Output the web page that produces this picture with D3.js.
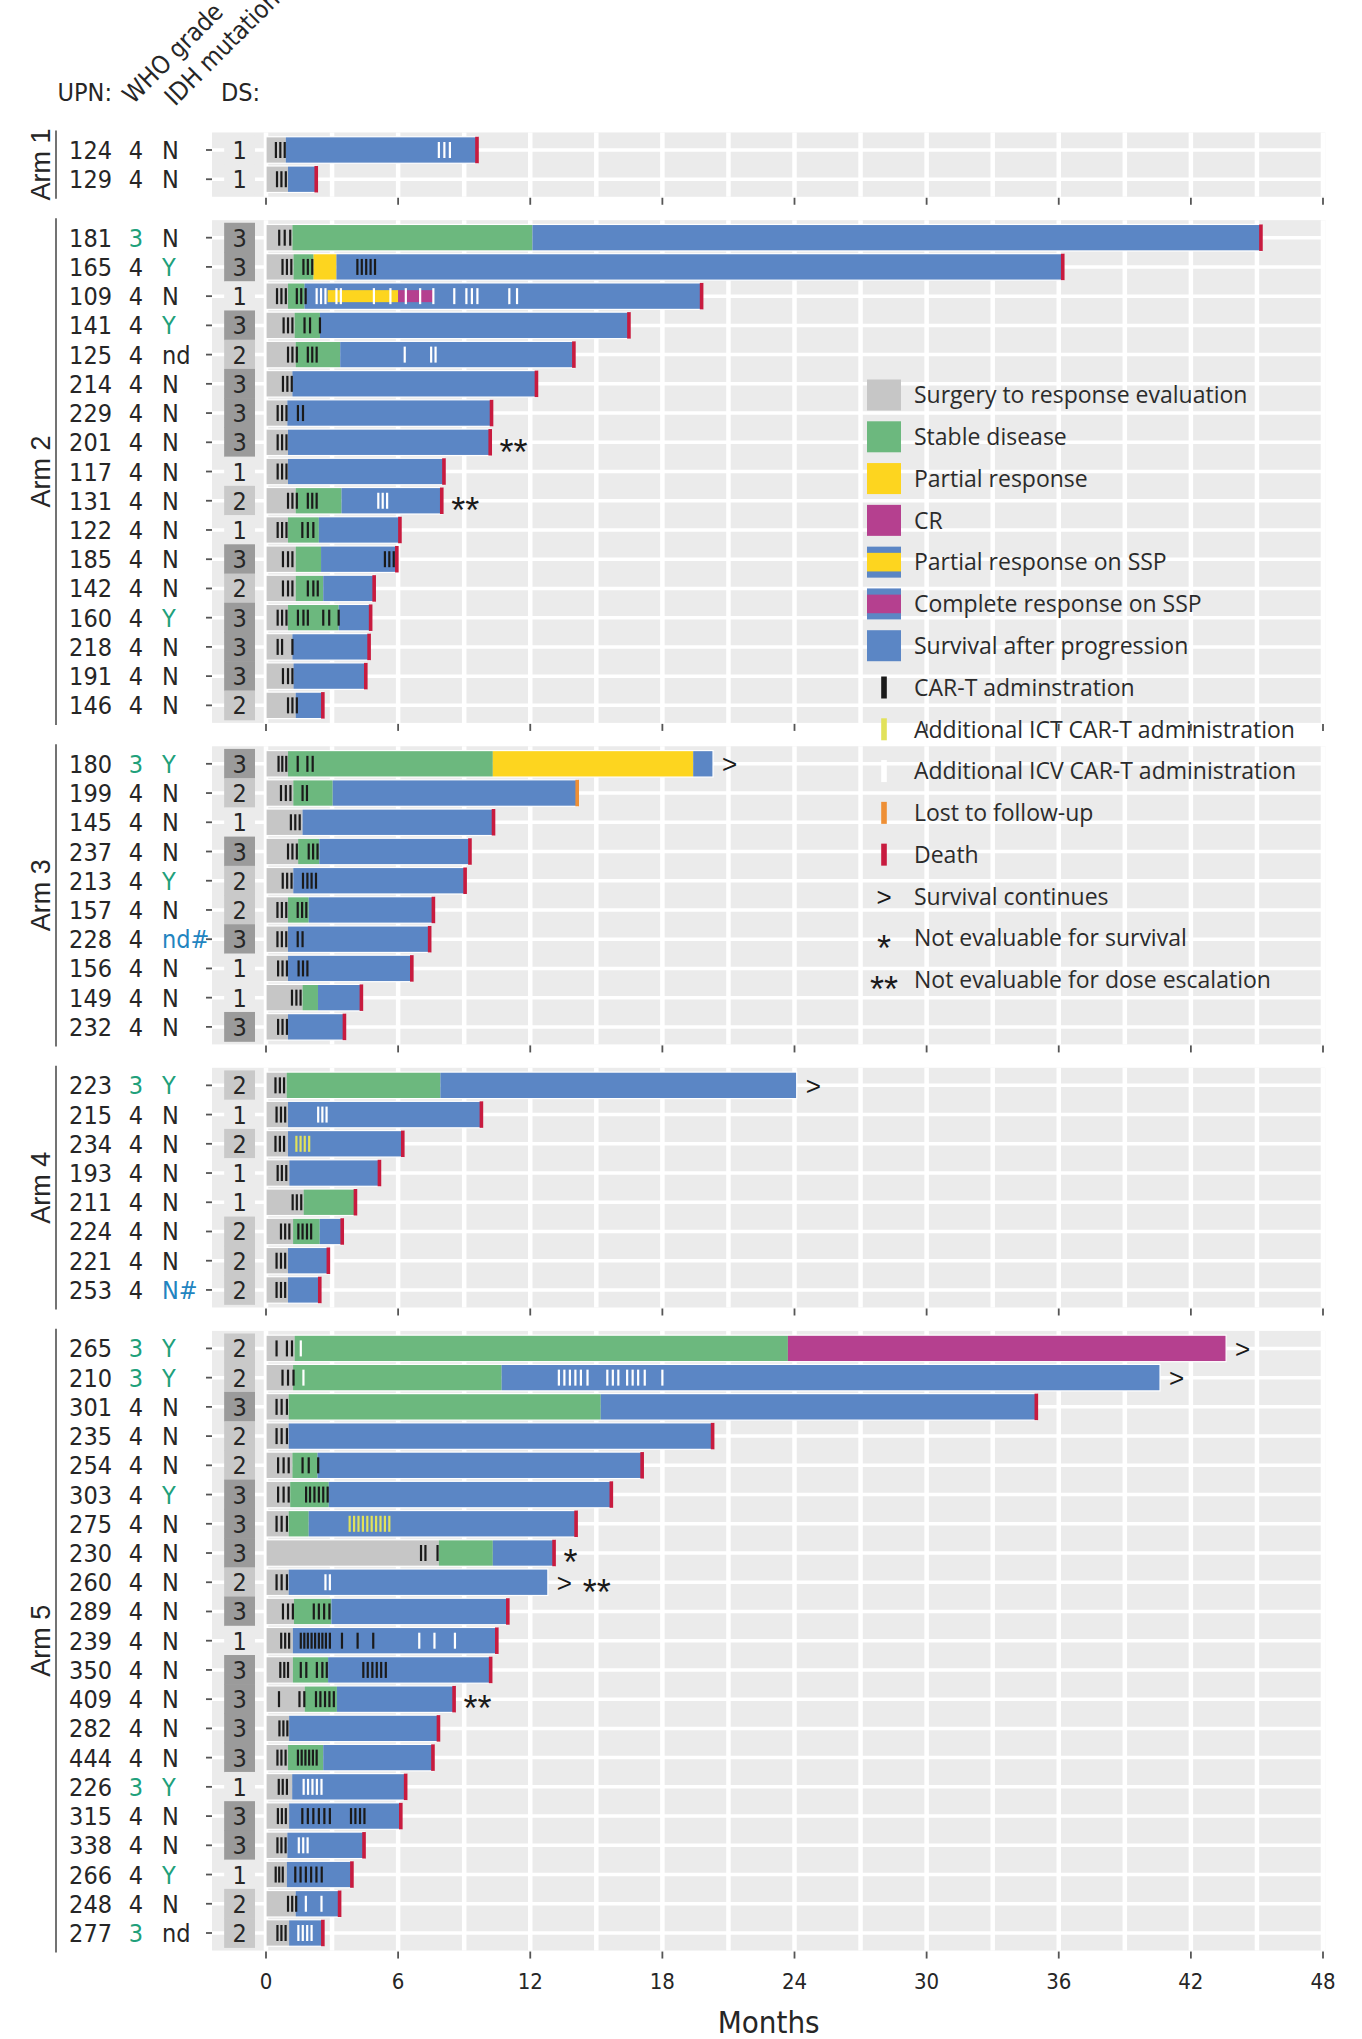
<!DOCTYPE html>
<html>
<head>
<meta charset="utf-8">
<script src="https://d3js.org/d3.v7.min.js"></script>
<style>
  html, body { margin: 0; padding: 0; background: #fff; }
  svg { display: block; }
  .narrow { font-family: "Liberation Sans Narrow", "DejaVu Sans Condensed", sans-serif; }
  .reg { font-family: "Liberation Sans", Arial, sans-serif; }
  .leg { font-family: "Open Sans", "DejaVu Sans", sans-serif; }
</style>
</head>
<body>
<svg id="chart" width="1362" height="2039"></svg>
<script>
'use strict';

// ---- data (months) ----
var arms = ['Arm 1', 'Arm 2', 'Arm 3', 'Arm 4', 'Arm 5'];
var armSize = [2, 17, 10, 8, 21];

var upn = ['124', '129',
  '181', '165', '109', '141', '125', '214', '229', '201', '117', '131', '122', '185', '142', '160', '218', '191', '146',
  '180', '199', '145', '237', '213', '157', '228', '156', '149', '232',
  '223', '215', '234', '193', '211', '224', '221', '253',
  '265', '210', '301', '235', '254', '303', '275', '230', '260', '289', '239', '350', '409', '282', '444', '226', '315', '338', '266', '248', '277'];

var whoGrade = ['4', '4',
  '3', '4', '4', '4', '4', '4', '4', '4', '4', '4', '4', '4', '4', '4', '4', '4', '4',
  '3', '4', '4', '4', '4', '4', '4', '4', '4', '4',
  '3', '4', '4', '4', '4', '4', '4', '4',
  '3', '3', '4', '4', '4', '4', '4', '4', '4', '4', '4', '4', '4', '4', '4', '3', '4', '4', '4', '4', '3'];

var idhMutation = ['N', 'N',
  'N', 'Y', 'N', 'Y', 'nd', 'N', 'N', 'N', 'N', 'N', 'N', 'N', 'N', 'Y', 'N', 'N', 'N',
  'Y', 'N', 'N', 'N', 'Y', 'N', 'nd#', 'N', 'N', 'N',
  'Y', 'N', 'N', 'N', 'N', 'N', 'N', 'N#',
  'Y', 'Y', 'N', 'N', 'N', 'Y', 'N', 'N', 'N', 'N', 'N', 'N', 'N', 'N', 'N', 'Y', 'N', 'N', 'Y', 'N', 'nd'];

var doseSchedule = [1, 1,
  3, 3, 1, 3, 2, 3, 3, 3, 1, 2, 1, 3, 2, 3, 3, 3, 2,
  3, 2, 1, 3, 2, 2, 3, 1, 1, 3,
  2, 1, 2, 1, 1, 2, 2, 2,
  2, 2, 3, 2, 2, 3, 3, 3, 2, 3, 1, 3, 3, 3, 3, 1, 3, 3, 1, 2, 2];

// end of surgery-to-response-evaluation phase
var sreEnd = [0.9, 1.0,
  1.2, 1.25, 1.0, 1.3, 1.35, 1.2, 0.97, 1.0, 1.0, 1.35, 1.0, 1.35, 1.35, 1.0, 1.2, 1.25, 1.35,
  1.0, 1.24, 1.66, 1.46, 1.24, 1.0, 1.0, 1.0, 1.66, 1.0,
  0.94, 1.0, 1.0, 1.06, 1.71, 1.23, 1.0, 1.0,
  1.3, 1.23, 1.03, 1.03, 1.2, 1.1, 1.03, 7.85, 1.03, 1.27, 1.22, 1.22, 1.76, 1.05, 1.0, 1.19, 1.05, 0.97, 0.95, 1.35, 1.05];

// end of stable disease phase (null = none)
var sdEnd = [null, null,
  12.1, 2.16, 1.75, 2.45, 3.37, null, null, null, null, 3.43, 2.4, 2.5, 2.6, 3.3, null, null, null,
  10.3, 3.03, null, 2.42, null, 1.94, null, null, 2.36, null,
  7.92, null, null, null, 4.08, 2.44, null, null,
  23.7, 10.7, 15.2, null, 2.34, 2.85, 1.94, 10.3, null, 2.97, null, 2.82, 3.22, null, 2.6, null, null, null, null, null, null];

// end of partial response / complete response phases
var prEnd = [null, null,
  null, 3.2, null, null, null, null, null, null, null, null, null, null, null, null, null, null, null,
  19.4, null, null, null, null, null, null, null, null, null,
  null, null, null, null, null, null, null, null,
  null, null, null, null, null, null, null, null, null, null, null, null, null, null, null, null, null, null, null, null, null];

var crEnd = [null, null,
  null, null, null, null, null, null, null, null, null, null, null, null, null, null, null, null, null,
  null, null, null, null, null, null, null, null, null, null,
  null, null, null, null, null, null, null, null,
  43.6, null, null, null, null, null, null, null, null, null, null, null, null, null, null, null, null, null, null, null, null];

// overall follow-up
var osEnd = [9.6, 2.3,
  45.2, 36.2, 19.8, 16.5, 14.0, 12.3, 10.26, 10.2, 8.1, 8.0, 6.1, 5.96, 4.93, 4.77, 4.7, 4.55, 2.6,
  20.3, 14.15, 10.35, 9.28, 9.06, 7.62, 7.45, 6.64, 4.35, 3.58,
  24.1, 9.8, 6.23, 5.17, 4.08, 3.48, 2.85, 2.46,
  43.6, 40.6, 35.0, 20.3, 17.1, 15.7, 14.1, 13.1, 12.8, 11.0, 10.5, 10.22, 8.56, 7.85, 7.6, 6.36, 6.14, 4.47, 3.92, 3.36, 2.6];

var aliveUpn = ['180', '223', '265', '210', '260'];
var lostUpn = ['199'];
var noteUpn = ['201', '131', '230', '260', '409'];
var noteText = ['**', '**', '*', '**', '**'];

// partial / complete response on SSP (drawn as band over blue)
var sspUpn = ['109', '109'];
var sspKind = ['pr', 'cr'];
var sspFrom = [2.8, 6.0];
var sspTo = [6.0, 7.6];

// CAR-T administrations per patient
var carT = [
  [0.45, 0.65, 0.85], [0.5, 0.7, 0.9],
  [0.6, 0.85, 1.1],
  [0.75, 0.95, 1.15, 1.7, 1.9, 2.1, 4.15, 4.35, 4.55, 4.75, 4.95],
  [0.5, 0.7, 0.9, 1.4, 1.6, 1.8],
  [0.8, 1.0, 1.2, 1.75, 2.0, 2.45],
  [1.0, 1.2, 1.4, 1.9, 2.1, 2.3],
  [0.77, 0.97, 1.17],
  [0.53, 0.73, 0.93, 1.45, 1.68],
  [0.53, 0.73, 0.93],
  [0.53, 0.73, 0.93],
  [1.0, 1.2, 1.4, 1.9, 2.1, 2.3],
  [0.53, 0.73, 0.93, 1.65, 1.9, 2.15],
  [0.77, 1.0, 1.2, 5.4, 5.6, 5.8],
  [0.77, 1.0, 1.2, 1.9, 2.15, 2.35],
  [0.53, 0.73, 0.93, 1.45, 1.7, 1.9, 2.6, 2.87, 3.3],
  [0.53, 0.73, 1.2],
  [0.77, 1.0, 1.2],
  [1.0, 1.2, 1.4],
  [0.57, 0.74, 0.92, 1.44, 1.88, 2.12],
  [0.68, 0.9, 1.11, 1.66, 1.86],
  [1.13, 1.33, 1.53],
  [1.0, 1.2, 1.4, 1.94, 2.14, 2.34],
  [0.76, 0.96, 1.16, 1.68, 1.88, 2.07, 2.27],
  [0.52, 0.72, 0.92, 1.44, 1.64, 1.83],
  [0.52, 0.72, 0.92, 1.44, 1.66],
  [0.55, 0.75, 0.95, 1.48, 1.68, 1.88],
  [1.18, 1.38, 1.57],
  [0.55, 0.75, 0.95],
  [0.43, 0.63, 0.82],
  [0.48, 0.68, 0.87],
  [0.43, 0.63, 0.82],
  [0.53, 0.72, 0.92],
  [1.21, 1.4, 1.6],
  [0.68, 0.87, 1.06, 1.47, 1.66, 1.86, 2.05],
  [0.48, 0.68, 0.87],
  [0.48, 0.68, 0.87],
  [0.48, 0.95, 1.18],
  [0.75, 1.0, 1.25],
  [0.48, 0.71, 0.95],
  [0.48, 0.71, 0.95],
  [0.55, 0.8, 1.03, 1.66, 1.94, 2.37],
  [0.55, 0.8, 1.03, 1.82, 2.0, 2.2, 2.4, 2.6, 2.8],
  [0.48, 0.71, 0.95],
  [7.04, 7.24, 7.79],
  [0.48, 0.71, 0.95],
  [0.77, 1.0, 1.22, 2.17, 2.4, 2.64, 2.88],
  [0.69, 0.87, 1.05, 1.58, 1.74, 1.9, 2.07, 2.23, 2.4, 2.56, 2.72, 2.9, 3.45, 4.16, 4.87],
  [0.65, 0.83, 1.0, 1.58, 1.83, 2.31, 2.56, 2.76, 4.42, 4.62, 4.83, 5.03, 5.23, 5.44],
  [0.59, 1.52, 1.74, 2.27, 2.47, 2.68, 2.88, 3.08],
  [0.61, 0.79, 0.97],
  [0.52, 0.7, 0.89, 1.45, 1.62, 1.79, 1.96, 2.13, 2.3],
  [0.58, 0.76, 0.95],
  [0.54, 0.72, 0.9, 1.65, 1.9, 2.15, 2.4, 2.65, 2.9, 3.86, 4.06, 4.27, 4.47],
  [0.52, 0.7, 0.89],
  [0.44, 0.6, 0.76, 1.33, 1.57, 1.81, 2.05, 2.29, 2.53],
  [1.0, 1.19, 1.37],
  [0.52, 0.7, 0.89]
];

// additional intracavitary (ICT) and intraventricular (ICV) doses
var ictUpn = ['234', '275'];
var ictTimes = [
  [1.38, 1.57, 1.76, 1.96],
  [3.8, 4.0, 4.2, 4.4, 4.6, 4.8, 5.0, 5.2, 5.4, 5.6]
];
var icvUpn = ['124', '109', '125', '131', '215', '265', '210', '260', '239', '226', '338', '248', '277'];
var icvTimes = [
  [7.85, 8.1, 8.35],
  [2.3, 2.5, 2.7, 3.2, 3.4, 4.9, 5.65, 6.35, 7.0, 7.6, 8.55, 9.1, 9.35, 9.6, 11.05, 11.4],
  [6.3, 7.5, 7.7],
  [5.1, 5.3, 5.5],
  [2.37, 2.56, 2.75],
  [1.58],
  [1.7, 13.3, 13.55, 13.8, 14.05, 14.3, 14.6, 15.5, 15.75, 16.0, 16.4, 16.65, 16.9, 17.2, 18.0],
  [2.7, 2.9],
  [6.96, 7.65, 8.58],
  [1.71, 1.91, 2.11, 2.31, 2.52],
  [1.49, 1.69, 1.89],
  [1.81, 2.52],
  [1.47, 1.67, 1.87, 2.07]
];

var xTicks = [0, 6, 12, 18, 24, 30, 36, 42, 48];

var legendLabels = ['Surgery to response evaluation', 'Stable disease', 'Partial response', 'CR',
  'Partial response on SSP', 'Complete response on SSP', 'Survival after progression',
  'CAR-T adminstration', 'Additional ICT CAR-T administration', 'Additional ICV CAR-T administration',
  'Lost to follow-up', 'Death', 'Survival continues', 'Not evaluable for survival',
  'Not evaluable for dose escalation'];
var legendKeys = ['sre', 'sd', 'pr', 'cr', 'prssp', 'crssp', 'sap', 'cart', 'ict', 'icv',
  'lost', 'death', '>', '*', '**'];

// ---- styles ----
var colors = {
  sre: '#c6c6c6', sd: '#6cb87e', pr: '#fdd51f', cr: '#b5408f', sap: '#5b86c5',
  cart: '#1a1a1a', ict: '#e2e25a', icv: '#ffffff', lost: '#ee8f35', death: '#c81b3f',
  panel: '#ebebeb', text: '#262626', teal: '#21a07a', blue: '#2284c0'
};
var dsFill = { 1: '#ebebeb', 2: '#c9c9c9', 3: '#9b9b9b' };

var svg = d3.select('#chart');

var x = d3.scaleLinear().domain([0, 48]).range([266, 1323]);
var y = d3.scaleLinear().domain([0, 61]).range([150, 1933]);
var ROW = y(1) - y(0);
var BAR = 26.5;

// unit position of every patient; one extra unit between arms
var unit = [], armOf = [];
(function () {
  var u = 0;
  armSize.forEach(function (n, a) {
    for (var k = 0; k < n; k++) {
      unit.push(u);
      armOf.push(a);
      u++;
    }
    u += 1;
  });
})();

var rows = upn.map(function (id, i) {
  return { i: i, upn: id, cy: y(unit[i]) };
});

var panels = arms.map(function (name, a) {
  var idx = d3.range(upn.length).filter(function (i) { return armOf[i] === a; });
  return {
    name: name,
    idx: idx,
    top: y(unit[idx[0]] - 0.6),
    bottom: y(unit[idx[idx.length - 1]] + 0.6)
  };
});

var panelLeft = x(-2.45),
    panelRight = x(48.1);

// ---- panels, gridlines ----
var gPanel = svg.append('g');
panels.forEach(function (p) {
  gPanel.append('rect')
      .attr('x', panelLeft).attr('y', p.top)
      .attr('width', panelRight - panelLeft).attr('height', p.bottom - p.top)
      .attr('fill', colors.panel);

  gPanel.selectAll(null)
      .data(d3.range(0, 49, 3))
      .enter().append('line')
      .attr('x1', function (d) { return x(d); })
      .attr('x2', function (d) { return x(d); })
      .attr('y1', p.top).attr('y2', p.bottom)
      .attr('stroke', '#fff').attr('stroke-width', 4.5);

  gPanel.selectAll(null)
      .data(p.idx)
      .enter().append('line')
      .attr('x1', panelLeft).attr('x2', panelRight)
      .attr('y1', function (i) { return y(unit[i]); })
      .attr('y2', function (i) { return y(unit[i]); })
      .attr('stroke', '#fff').attr('stroke-width', 3.5);

  // bottom axis ticks of each panel
  gPanel.selectAll(null)
      .data(xTicks)
      .enter().append('line')
      .attr('x1', function (d) { return x(d); })
      .attr('x2', function (d) { return x(d); })
      .attr('y1', p.bottom + 1).attr('y2', p.bottom + 8)
      .attr('stroke', '#555').attr('stroke-width', 1.8);

  // arm label and bracket
  var mid = (p.top + p.bottom) / 2;
  gPanel.append('line')
      .attr('x1', 56).attr('x2', 56)
      .attr('y1', p.top - 2).attr('y2', p.bottom + 2)
      .attr('stroke', '#444').attr('stroke-width', 1.5);
  gPanel.append('text')
      .attr('class', 'reg')
      .attr('transform', 'translate(40,' + mid + ') rotate(-90)')
      .attr('text-anchor', 'middle')
      .attr('dy', '0.36em')
      .attr('font-size', 27)
      .attr('fill', colors.text)
      .text(p.name);
});

// ---- DS tiles ----
svg.append('g').selectAll('rect')
    .data(rows)
    .enter().append('rect')
    .attr('x', x(-1.9))
    .attr('width', x(-0.5) - x(-1.9))
    .attr('y', function (d) { return d.cy - ROW / 2 - 0.3; })
    .attr('height', ROW + 0.6)
    .attr('fill', function (d) { return dsFill[doseSchedule[d.i]]; });

svg.append('g').selectAll('text')
    .data(rows)
    .enter().append('text')
    .attr('class', 'narrow')
    .attr('x', (x(-1.9) + x(-0.5)) / 2)
    .attr('y', function (d) { return d.cy; })
    .attr('dy', '0.36em')
    .attr('text-anchor', 'middle')
    .attr('font-size', 25)
    .attr('fill', colors.text)
    .text(function (d) { return doseSchedule[d.i]; });

// ---- bars ----
var segments = [];
rows.forEach(function (r) {
  var i = r.i,
      start = 0,
      ends = [['sre', sreEnd[i]], ['sd', sdEnd[i]], ['pr', prEnd[i]], ['cr', crEnd[i]], ['sap', osEnd[i]]];
  ends.forEach(function (e) {
    if (e[1] !== null && e[1] > start) {
      segments.push({ cy: r.cy, kind: e[0], from: start, to: e[1] });
      start = e[1];
    }
  });
});

var gBars = svg.append('g');
gBars.selectAll('rect.seg')
    .data(segments)
    .enter().append('rect')
    .attr('class', 'seg')
    .attr('x', function (d) { return x(d.from); })
    .attr('width', function (d) { return x(d.to) - x(d.from); })
    .attr('y', function (d) { return d.cy - BAR / 2; })
    .attr('height', BAR)
    .attr('fill', function (d) { return colors[d.kind]; });

var ssp = sspUpn.map(function (id, k) {
  return { cy: rows[upn.indexOf(id)].cy, kind: sspKind[k], from: sspFrom[k], to: sspTo[k] };
});
gBars.selectAll('rect.ssp')
    .data(ssp)
    .enter().append('rect')
    .attr('class', 'ssp')
    .attr('x', function (d) { return x(d.from); })
    .attr('width', function (d) { return x(d.to) - x(d.from); })
    .attr('y', function (d) { return d.cy - 6; })
    .attr('height', 12)
    .attr('fill', function (d) { return colors[d.kind]; });

gBars.selectAll('rect.outline')
    .data(rows)
    .enter().append('rect')
    .attr('class', 'outline')
    .attr('x', x(0))
    .attr('width', function (d) { return x(osEnd[d.i]) - x(0); })
    .attr('y', function (d) { return d.cy - BAR / 2; })
    .attr('height', BAR)
    .attr('fill', 'none')
    .attr('stroke', '#fff')
    .attr('stroke-width', 1.2);

// ---- administrations ----
var doses = [];
rows.forEach(function (r) {
  carT[r.i].forEach(function (t) { doses.push({ cy: r.cy, t: t, kind: 'cart' }); });
});
ictUpn.forEach(function (id, k) {
  var r = rows[upn.indexOf(id)];
  ictTimes[k].forEach(function (t) { doses.push({ cy: r.cy, t: t, kind: 'ict' }); });
});
icvUpn.forEach(function (id, k) {
  var r = rows[upn.indexOf(id)];
  icvTimes[k].forEach(function (t) { doses.push({ cy: r.cy, t: t, kind: 'icv' }); });
});

svg.append('g').selectAll('line')
    .data(doses)
    .enter().append('line')
    .attr('x1', function (d) { return x(d.t); })
    .attr('x2', function (d) { return x(d.t); })
    .attr('y1', function (d) { return d.cy - 8; })
    .attr('y2', function (d) { return d.cy + 8; })
    .attr('stroke', function (d) { return colors[d.kind]; })
    .attr('stroke-width', 2.2);

// ---- end markers and notes ----
var ends = rows.filter(function (r) { return aliveUpn.indexOf(r.upn) < 0; });
svg.append('g').selectAll('rect')
    .data(ends)
    .enter().append('rect')
    .attr('x', function (d) { return x(osEnd[d.i]) - 2.2; })
    .attr('width', 3.6)
    .attr('y', function (d) { return d.cy - BAR / 2; })
    .attr('height', BAR)
    .attr('fill', function (d) { return lostUpn.indexOf(d.upn) >= 0 ? colors.lost : colors.death; });

var notes = [];
rows.forEach(function (r) {
  var px = x(osEnd[r.i]) + 9,
      k = noteUpn.indexOf(r.upn);
  if (aliveUpn.indexOf(r.upn) >= 0) {
    notes.push({ cy: r.cy, px: px, label: '>', size: 26, dy: '0.36em' });
    px += 26;
  }
  if (k >= 0) {
    notes.push({ cy: r.cy, px: px, label: noteText[k], size: 36, dy: '0.62em' });
  }
});
svg.append('g').selectAll('text')
    .data(notes)
    .enter().append('text')
    .attr('class', 'reg')
    .attr('x', function (d) { return d.px; })
    .attr('y', function (d) { return d.cy; })
    .attr('dy', function (d) { return d.dy; })
    .attr('font-size', function (d) { return d.size; })
    .attr('fill', '#1a1a1a')
    .text(function (d) { return d.label; });

// ---- y labels ----
var gY = svg.append('g').attr('class', 'narrow').attr('font-size', 25).attr('fill', colors.text);
gY.selectAll('line')
    .data(rows)
    .enter().append('line')
    .attr('x1', 206).attr('x2', 212)
    .attr('y1', function (d) { return d.cy; })
    .attr('y2', function (d) { return d.cy; })
    .attr('stroke', '#555').attr('stroke-width', 1.8);

gY.selectAll('text.upn')
    .data(rows)
    .enter().append('text')
    .attr('class', 'upn')
    .attr('x', 112).attr('y', function (d) { return d.cy; })
    .attr('dy', '0.36em').attr('text-anchor', 'end')
    .text(function (d) { return d.upn; });

gY.selectAll('text.who')
    .data(rows)
    .enter().append('text')
    .attr('class', 'who')
    .attr('x', 136).attr('y', function (d) { return d.cy; })
    .attr('dy', '0.36em').attr('text-anchor', 'middle')
    .attr('fill', function (d) { return whoGrade[d.i] === '3' ? colors.teal : colors.text; })
    .text(function (d) { return whoGrade[d.i]; });

gY.selectAll('text.idh')
    .data(rows)
    .enter().append('text')
    .attr('class', 'idh')
    .attr('x', 162).attr('y', function (d) { return d.cy; })
    .attr('dy', '0.36em')
    .attr('fill', function (d) {
      var v = idhMutation[d.i];
      if (v === 'Y') { return colors.teal; }
      if (v.indexOf('#') >= 0) { return colors.blue; }
      return colors.text;
    })
    .text(function (d) { return idhMutation[d.i]; });

// ---- header ----
var gHead = svg.append('g').attr('class', 'narrow').attr('font-size', 25).attr('fill', colors.text);
gHead.append('text').attr('x', 112).attr('y', 101).attr('text-anchor', 'end').text('UPN:');
gHead.append('text').attr('transform', 'translate(133,105) rotate(-45)').text('WHO grade');
gHead.append('text').attr('transform', 'translate(175,107) rotate(-45)').text('IDH mutation');
gHead.append('text').attr('x', 221).attr('y', 101).text('DS:');

// ---- x axis ----
var lastPanel = panels[panels.length - 1];
svg.append('g').attr('class', 'narrow').attr('font-size', 22).attr('fill', colors.text)
    .selectAll('text')
    .data(xTicks)
    .enter().append('text')
    .attr('x', function (d) { return x(d); })
    .attr('y', lastPanel.bottom + 38)
    .attr('text-anchor', 'middle')
    .text(function (d) { return d; });

svg.append('text')
    .attr('class', 'narrow')
    .attr('x', (panelLeft + panelRight) / 2)
    .attr('y', lastPanel.bottom + 82)
    .attr('text-anchor', 'middle')
    .attr('font-size', 31)
    .attr('fill', colors.text)
    .text('Months');

// ---- legend ----
var legY = d3.scaleLinear().domain([0, legendLabels.length - 1]).range([395, 980]);
var gLeg = svg.append('g');
legendKeys.forEach(function (k, n) {
  var cy = legY(n),
      kx = 867, kw = 34, kh = 31;
  if (['sre', 'sd', 'pr', 'cr', 'sap'].indexOf(k) >= 0) {
    gLeg.append('rect').attr('x', kx).attr('y', cy - kh / 2).attr('width', kw).attr('height', kh)
        .attr('fill', colors[k]);
  } else if (k === 'prssp' || k === 'crssp') {
    gLeg.append('rect').attr('x', kx).attr('y', cy - kh / 2).attr('width', kw).attr('height', kh)
        .attr('fill', colors.sap);
    gLeg.append('rect').attr('x', kx).attr('y', cy - kh * 0.3).attr('width', kw).attr('height', kh * 0.6)
        .attr('fill', k === 'prssp' ? colors.pr : colors.cr);
  } else if (['cart', 'ict', 'icv', 'lost', 'death'].indexOf(k) >= 0) {
    gLeg.append('rect').attr('x', kx + 17 - 2.8).attr('y', cy - 11).attr('width', 5.6).attr('height', 22)
        .attr('fill', colors[k]);
  } else {
    gLeg.append('text').attr('class', 'reg')
        .attr('x', kx + 17).attr('y', cy).attr('dy', k === '>' ? '0.36em' : '0.62em')
        .attr('text-anchor', 'middle').attr('font-size', k === '>' ? 26 : 36)
        .attr('fill', '#1a1a1a')
        .text(k);
  }
  gLeg.append('text').attr('class', 'leg')
      .attr('x', 914).attr('y', cy).attr('dy', '0.36em')
      .attr('font-size', 23).attr('fill', '#2b2b2b')
      .text(legendLabels[n]);
});
</script>
</body>
</html>
